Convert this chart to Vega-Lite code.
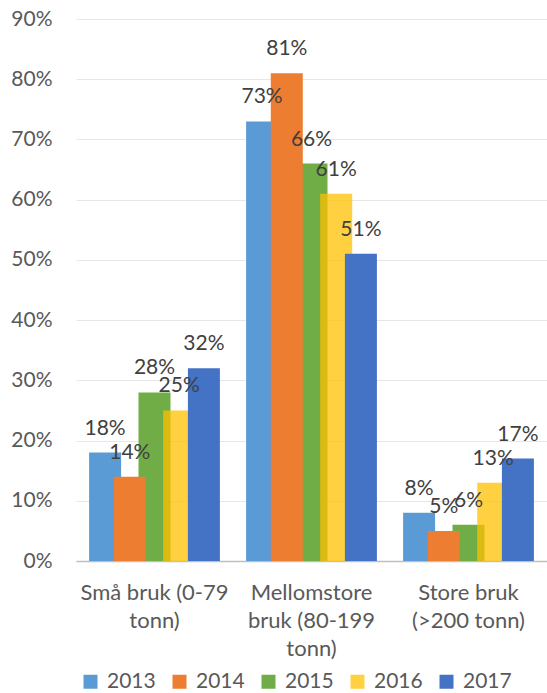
{
  "$schema": "https://vega.github.io/schema/vega-lite/v6.json",
  "width": 471,
  "height": 542,
  "autosize": "none",
  "padding": {"left": 76, "top": 19, "right": 0, "bottom": 132},
  "background": "white",
  "config": {
    "view": {"stroke": null},
    "font": "Lato",
    "axis": {"labelFont": "Lato", "labelFontSize": 21, "labelColor": "#595959", "titleFont": "Lato"},
    "legend": {"labelFont": "Lato", "labelFontSize": 21, "labelColor": "#595959"}
  },
  "data": {
    "values": [
      {"kategori": "Små bruk (0-79 tonn)", "år": "2013", "andel": 0.18},
      {"kategori": "Små bruk (0-79 tonn)", "år": "2015", "andel": 0.28},
      {"kategori": "Små bruk (0-79 tonn)", "år": "2014", "andel": 0.14},
      {"kategori": "Små bruk (0-79 tonn)", "år": "2016", "andel": 0.25},
      {"kategori": "Små bruk (0-79 tonn)", "år": "2017", "andel": 0.32},
      {"kategori": "Mellomstore bruk (80-199 tonn)", "år": "2013", "andel": 0.73},
      {"kategori": "Mellomstore bruk (80-199 tonn)", "år": "2015", "andel": 0.66},
      {"kategori": "Mellomstore bruk (80-199 tonn)", "år": "2014", "andel": 0.81},
      {"kategori": "Mellomstore bruk (80-199 tonn)", "år": "2016", "andel": 0.61},
      {"kategori": "Mellomstore bruk (80-199 tonn)", "år": "2017", "andel": 0.51},
      {"kategori": "Store bruk (>200 tonn)", "år": "2013", "andel": 0.08},
      {"kategori": "Store bruk (>200 tonn)", "år": "2015", "andel": 0.06},
      {"kategori": "Store bruk (>200 tonn)", "år": "2014", "andel": 0.05},
      {"kategori": "Store bruk (>200 tonn)", "år": "2016", "andel": 0.13},
      {"kategori": "Store bruk (>200 tonn)", "år": "2017", "andel": 0.17}
    ]
  },
  "encoding": {
    "x": {
      "field": "kategori",
      "type": "nominal",
      "sort": null,
      "scale": {"paddingInner": 0.2134, "paddingOuter": 0.1067},
      "axis": {
        "title": null,
        "labelAngle": 0,
        "ticks": false,
        "tickSize": 0,
        "labelPadding": 38,
        "labelLineHeight": 28,
        "labelBaseline": "alphabetic",
        "labelFontSize": 22,
        "domainColor": "#BFBFBF",
        "domainWidth": 1.5,
        "grid": false,
        "labelExpr": "datum.value == 'Små bruk (0-79 tonn)' ? ['Små bruk (0-79', 'tonn)'] : datum.value == 'Mellomstore bruk (80-199 tonn)' ? ['Mellomstore', 'bruk (80-199', 'tonn)'] : ['Store bruk', '(>200 tonn)']"
      }
    },
    "xOffset": {
      "field": "år",
      "type": "nominal",
      "scale": {"domain": ["2013", "2014", "2015", "2016", "2017"], "paddingInner": 0, "paddingOuter": 0}
    },
    "y": {
      "field": "andel",
      "type": "quantitative",
      "scale": {"domain": [0, 0.9], "nice": false},
      "axis": {
        "title": null,
        "format": ".0%",
        "values": [0, 0.1, 0.2, 0.3, 0.4, 0.5, 0.6, 0.7, 0.8, 0.9],
        "domain": false,
        "ticks": false,
        "tickSize": 0,
        "labelPadding": 24,
        "gridColor": "#E6E6E6",
        "gridWidth": 1
      }
    }
  },
  "layer": [
    {
      "mark": {"type": "bar", "width": 32},
      "encoding": {
        "color": {
          "field": "år",
          "type": "nominal",
          "scale": {"domain": ["2013", "2014", "2015", "2016", "2017"], "range": ["#5B9BD5", "#ED7D31", "#70AD47", "rgba(255,192,0,0.75)", "#4472C4"]},
          "legend": {
            "title": null,
            "orient": "none",
            "direction": "horizontal",
            "legendX": 4,
            "legendY": 652,
            "symbolType": "square",
            "symbolSize": 196,
            "symbolStrokeWidth": 0,
            "symbolOpacity": 1,
            "labelOffset": 6,
            "columnPadding": 13
          }
        }
      }
    },
    {
      "mark": {"type": "text", "fontSize": 21, "color": "#404040", "dy": -18, "baseline": "alphabetic"},
      "encoding": {
        "text": {"field": "andel", "type": "quantitative", "format": ".0%"}
      }
    }
  ]
}
